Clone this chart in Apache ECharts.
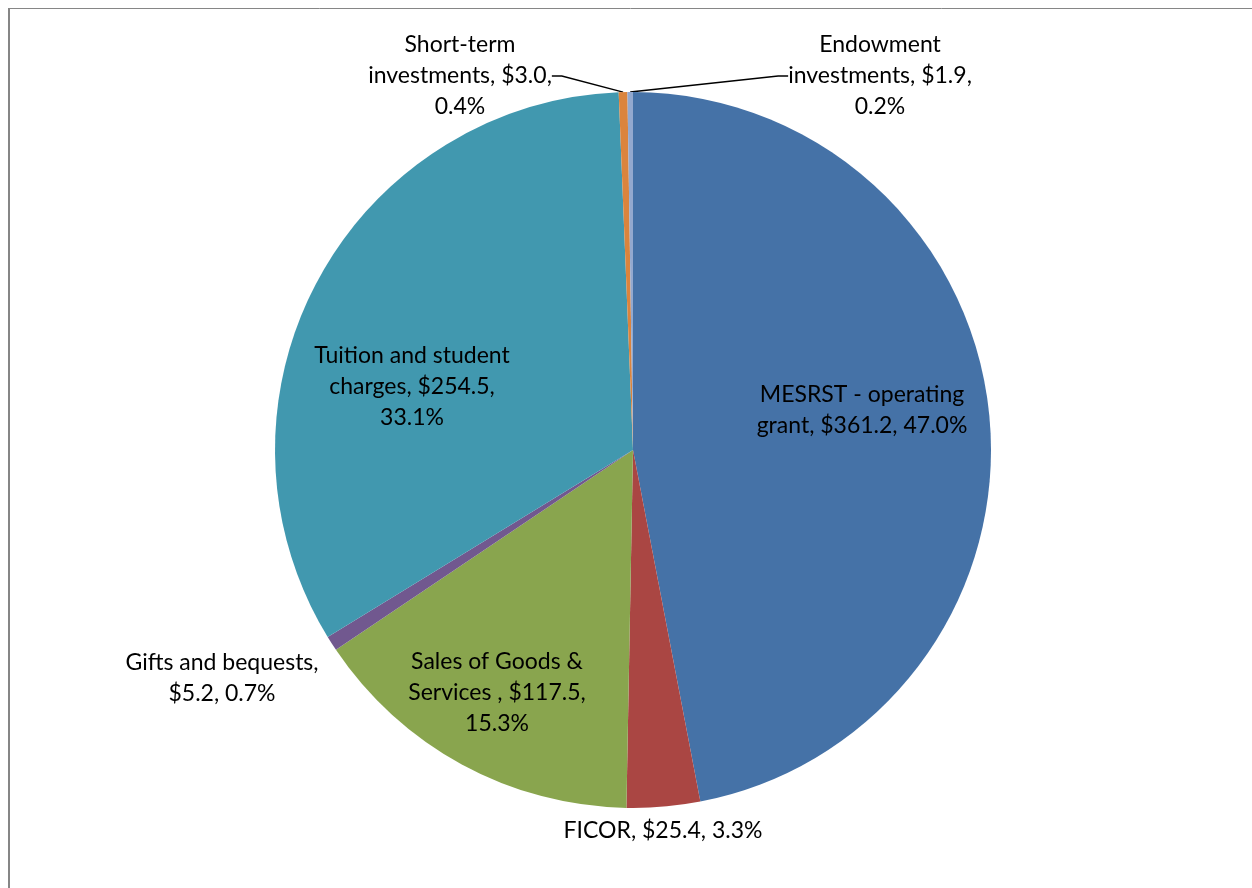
<!DOCTYPE html>
<html>
<head>
<meta charset="utf-8">
<script src="https://cdn.jsdelivr.net/npm/echarts@6/dist/echarts.min.js"></script>
<style>
html,body{margin:0;padding:0;background:#fff;overflow:hidden;}
#chart{width:1252px;height:888px;}
</style>
</head>
<body>
<div id="chart"></div>
<script>
const categories = ['MESRST - operating grant', 'FICOR', 'Sales of Goods & Services ', 'Gifts and bequests', 'Tuition and student charges', 'Short-term investments', 'Endowment investments'];
const values = [361.2, 25.4, 117.5, 5.2, 254.5, 3.0, 1.9];
const percents = ['47.0%', '3.3%', '15.3%', '0.7%', '33.1%', '0.4%', '0.2%'];
const colors = ['#4572A7', '#AA4643', '#89A54E', '#71588F', '#4198AF', '#DB843D', '#93A9CF'];

// label layout (style only): wrapped text, centre positions, inside/outside
const labelText = [
  'MESRST - operating\ngrant, $361.2, 47.0%',
  'FICOR, $25.4, 3.3%',
  'Sales of Goods &\nServices , $117.5,\n15.3%',
  'Gifts and bequests,\n$5.2, 0.7%',
  'Tuition and student\ncharges, $254.5,\n33.1%',
  'Short-term\ninvestments, $3.0,\n0.4%',
  'Endowment\ninvestments, $1.9,\n0.2%'
];
const labelPos = [[862, 410], [663, 831], [497, 693], [222, 678], [412, 387], [460, 76], [880, 76]];
const inside = [true, false, true, false, true, false, false];
const showLine = [false, false, false, false, false, true, true];

const data = categories.map((c, i) => ({
  name: c,
  value: values[i],
  itemStyle: { color: colors[i] },
  label: { position: inside[i] ? 'inside' : 'outside', formatter: labelText[i] },
  labelLine: { show: showLine[i], length: 10, length2: 10, smooth: false, lineStyle: { color: '#000', width: 1.5 } }
}));

const chart = echarts.init(document.getElementById('chart'), null, { renderer: 'canvas' });
chart.setOption({
  animation: false,
  backgroundColor: '#fff',
  graphic: [
    { type: 'line', silent: true, shape: { x1: 9, y1: 8, x2: 9, y2: 900 }, style: { stroke: '#868686', lineWidth: 2 } },
    { type: 'line', silent: true, shape: { x1: 8, y1: 8.5, x2: 1260, y2: 8.5 }, style: { stroke: '#868686', lineWidth: 1 } }
  ],
  series: [{
    type: 'pie',
    center: [633, 450],
    radius: [0, 358],
    startAngle: 90,
    clockwise: true,
    avoidLabelOverlap: false,
    itemStyle: { borderWidth: 0 },
    label: {
      show: true,
      color: '#000',
      fontFamily: 'Lato, "Open Sans", sans-serif',
      fontSize: 23,
      lineHeight: 31,
      align: 'center'
    },
    labelLayout: function (p) {
      const pos = labelPos[p.dataIndex];
      return { x: pos[0], y: pos[1], align: 'center', verticalAlign: 'middle' };
    },
    data: data
  }]
});
</script>
</body>
</html>
